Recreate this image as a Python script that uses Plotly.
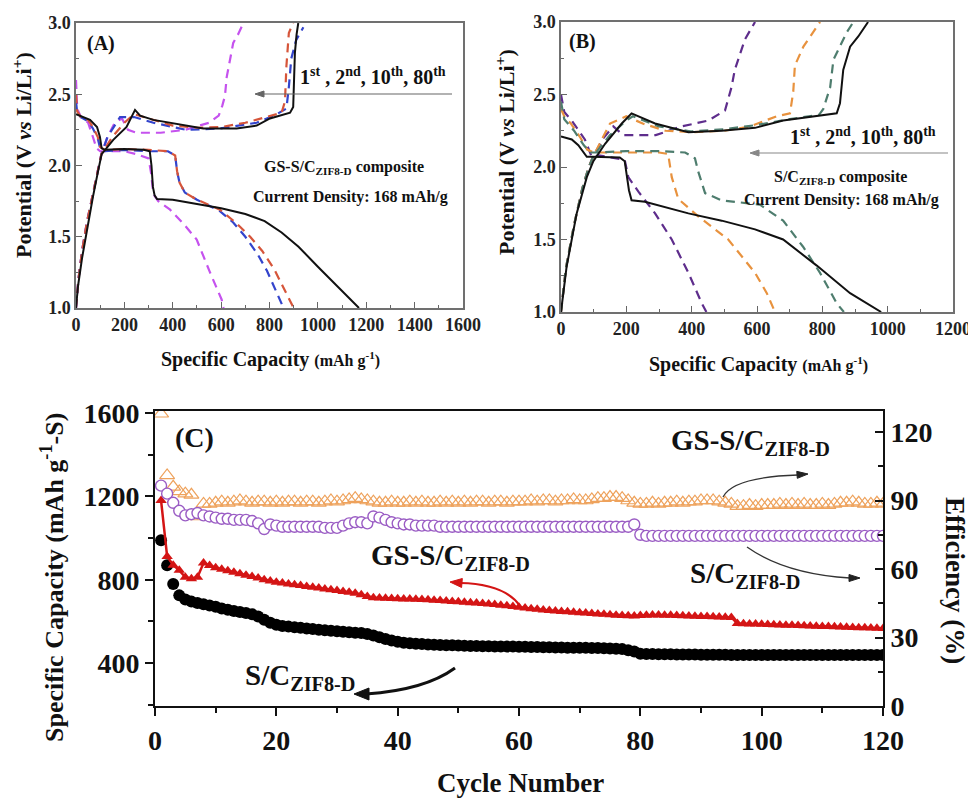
import math
import plotly.graph_objects as go

# The page places the figure 8px from the top-left corner; every position below is
# given in page pixels and converted to figure (paper) coordinates.
OFF = 8
W, H = 976 - OFF, 801 - OFF
def fx(p): return (p - OFF) / W
def fy(p): return 1 - (p - OFF) / H
SERIF = "Liberation Serif"

# ---------------- Panel A data (GS-S/C ZIF8-D) ----------------
A1_dis_q = [0, 30, 58, 87, 99, 106, 120, 200, 280, 305, 312, 318, 325, 335, 400, 500, 600, 700, 780, 850, 920, 1000, 1080, 1170]
A1_dis_v = [2.36, 2.34, 2.32, 2.27, 2.20, 2.12, 2.11, 2.115, 2.11, 2.10, 2.0, 1.85, 1.79, 1.765, 1.76, 1.73, 1.70, 1.66, 1.61, 1.53, 1.43, 1.29, 1.15, 1.0]
A1_ch_q = [0, 8, 25, 45, 70, 90, 106, 154, 209, 244, 265, 320, 389, 526, 664, 747, 802, 860, 885, 898, 905, 912, 919]
A1_ch_v = [1.0, 1.15, 1.35, 1.55, 1.78, 1.95, 2.08, 2.18, 2.27, 2.39, 2.35, 2.32, 2.30, 2.26, 2.26, 2.28, 2.33, 2.36, 2.37, 2.41, 2.79, 2.92, 3.0]

A2_dis_q = [0, 5, 20, 50, 70, 90, 100, 120, 200, 300, 380, 410, 418, 428, 450, 500, 595, 660, 720, 770, 820, 860, 900]
A2_dis_v = [2.5, 2.38, 2.34, 2.32, 2.27, 2.2, 2.13, 2.11, 2.115, 2.11, 2.1, 2.07, 1.96, 1.88, 1.81, 1.76, 1.69, 1.6, 1.5, 1.4, 1.27, 1.14, 1.0]
A2_ch_q = [0, 10, 25, 45, 70, 90, 105, 150, 200, 240, 300, 400, 500, 600, 700, 800, 850, 864, 870, 880, 898]
A2_ch_v = [1.0, 1.2, 1.4, 1.6, 1.8, 1.97, 2.08, 2.2, 2.3, 2.36, 2.33, 2.28, 2.265, 2.27, 2.3, 2.35, 2.37, 2.45, 2.7, 2.93, 3.0]

A10_dis_q = [0, 5, 20, 50, 70, 90, 100, 120, 200, 300, 380, 410, 418, 428, 450, 500, 595, 650, 700, 750, 790, 825, 858]
A10_dis_v = [2.45, 2.37, 2.34, 2.31, 2.26, 2.19, 2.12, 2.1, 2.11, 2.1, 2.1, 2.07, 1.96, 1.88, 1.81, 1.76, 1.68, 1.6, 1.5, 1.38, 1.26, 1.13, 1.0]
A10_ch_q = [0, 10, 25, 45, 70, 90, 105, 130, 182, 240, 320, 457, 595, 747, 830, 870, 880, 890, 910, 940]
A10_ch_v = [1.0, 1.2, 1.4, 1.6, 1.8, 1.97, 2.08, 2.2, 2.34, 2.34, 2.30, 2.25, 2.26, 2.30, 2.36, 2.4, 2.55, 2.75, 2.88, 2.97]

A80_dis_q = [0, 5, 20, 50, 70, 85, 100, 200, 250, 300, 310, 320, 340, 389, 450, 499, 554, 602, 610]
A80_dis_v = [2.6, 2.4, 2.34, 2.3, 2.2, 2.12, 2.1, 2.1, 2.08, 2.05, 1.95, 1.8, 1.75, 1.69, 1.58, 1.48, 1.25, 1.06, 1.0]
A80_ch_q = [0, 10, 25, 45, 70, 90, 105, 130, 160, 190, 215, 250, 350, 450, 550, 590, 605, 616, 623, 650, 670, 692]
A80_ch_v = [1.0, 1.2, 1.4, 1.6, 1.8, 1.97, 2.08, 2.2, 2.3, 2.33, 2.25, 2.23, 2.23, 2.25, 2.3, 2.35, 2.42, 2.49, 2.62, 2.86, 2.92, 3.0]

# ---------------- Panel B data (S/C ZIF8-D) ----------------
B1_dis_q = [0, 33, 53, 79, 94, 150, 180, 195, 201, 208, 216, 257, 390, 492, 594, 680, 783, 885, 980]
B1_dis_v = [2.21, 2.19, 2.15, 2.07, 2.07, 2.07, 2.065, 2.04, 1.93, 1.84, 1.77, 1.76, 1.68, 1.63, 1.57, 1.50, 1.32, 1.13, 1.0]
B1_ch_q = [0, 17, 48, 79, 99, 135, 186, 216, 288, 390, 492, 594, 680, 783, 844, 854, 864, 885, 910, 940]
B1_ch_v = [1.0, 1.31, 1.68, 1.93, 2.04, 2.16, 2.30, 2.37, 2.30, 2.24, 2.25, 2.27, 2.32, 2.35, 2.37, 2.44, 2.67, 2.83, 2.9, 3.0]

B2_dis_q = [0, 10, 40, 70, 90, 110, 200, 300, 380, 410, 420, 441, 492, 609, 680, 741, 793, 844, 866]
B2_dis_v = [2.45, 2.33, 2.25, 2.15, 2.1, 2.1, 2.11, 2.11, 2.1, 2.06, 1.97, 1.82, 1.77, 1.74, 1.63, 1.45, 1.27, 1.06, 1.0]
B2_ch_q = [0, 15, 40, 65, 85, 100, 150, 200, 220, 300, 400, 500, 600, 700, 790, 803, 824, 834, 875, 895]
B2_ch_v = [1.0, 1.3, 1.6, 1.85, 2.0, 2.08, 2.22, 2.32, 2.35, 2.28, 2.245, 2.26, 2.29, 2.33, 2.36, 2.4, 2.55, 2.74, 2.93, 3.0]

B10_dis_q = [0, 10, 30, 60, 80, 100, 200, 300, 328, 339, 359, 420, 512, 594, 630, 655]
B10_dis_v = [2.4, 2.35, 2.3, 2.2, 2.12, 2.1, 2.1, 2.1, 2.09, 1.93, 1.78, 1.66, 1.5, 1.27, 1.13, 1.0]
B10_ch_q = [0, 15, 40, 65, 85, 100, 150, 200, 250, 320, 400, 500, 579, 660, 701, 711, 716, 742, 793]
B10_ch_v = [1.0, 1.3, 1.6, 1.85, 2.0, 2.08, 2.3, 2.35, 2.3, 2.25, 2.24, 2.25, 2.28, 2.35, 2.37, 2.52, 2.7, 2.83, 3.0]

B80_dis_q = [0, 10, 33, 73, 94, 115, 195, 206, 237, 288, 339, 390, 431, 445]
B80_dis_v = [2.5, 2.38, 2.32, 2.19, 2.07, 2.08, 2.05, 1.93, 1.83, 1.68, 1.5, 1.27, 1.06, 1.0]
B80_ch_q = [0, 15, 40, 65, 85, 100, 130, 160, 190, 290, 369, 451, 502, 522, 532, 563, 594]
B80_ch_v = [1.0, 1.3, 1.6, 1.85, 2.0, 2.08, 2.2, 2.28, 2.22, 2.22, 2.28, 2.32, 2.39, 2.55, 2.67, 2.88, 3.0]

# ---------------- Panel C data ----------------
cycles = list(range(1, 121))
sc_capacity = [
    990, 870, 780, 725, 705, 695, 688, 682, 676, 670,
    662, 656, 650, 645, 640, 634, 624, 608, 594, 584,
    578, 575, 572, 569, 566, 563, 560, 557, 555, 553,
    550, 548, 546, 544, 540, 532, 524, 516, 508, 502,
    498, 495, 493, 491, 489, 488, 487, 486, 485, 484,
    483, 482, 482, 481, 481, 480, 480, 479, 479, 478,
    478, 477, 477, 476, 476, 475, 475, 474, 474, 473,
    473, 472, 472, 471, 470, 469, 467, 462, 456, 445,
    443, 443, 442, 442, 442, 441, 441, 441, 441, 440,
    440, 440, 440, 440, 439, 439, 439, 439, 439, 439,
    439, 439, 439, 439, 439, 439, 439, 439, 439, 439,
    439, 439, 439, 439, 439, 439, 439, 439, 439, 439]
gs_capacity = [
    1180, 912, 870, 845, 812, 805, 812, 880, 868, 858,
    850, 843, 836, 829, 822, 815, 808, 800, 794, 788,
    784, 780, 776, 772, 768, 764, 760, 756, 752, 748,
    744, 740, 735, 728, 720, 714, 712, 711, 710, 709,
    708, 707, 706, 705, 704, 702, 700, 698, 696, 694,
    692, 690, 688, 686, 684, 681, 678, 675, 672, 668,
    664, 661, 658, 655, 652, 650, 648, 646, 644, 642,
    640, 638, 636, 634, 632, 630, 628, 627, 626, 628,
    630, 631, 631, 630, 629, 628, 627, 626, 625, 624,
    623, 622, 621, 620, 619, 590, 589, 588, 587, 586,
    585, 584, 583, 582, 581, 580, 579, 578, 577, 576,
    575, 574, 573, 572, 571, 570, 569, 568, 567, 566]
gs_efficiency = [
    128, 101, 96, 94, 93, 92.5, 83, 88.5, 88.5, 89,
    89.5, 89, 89.5, 90, 89.5, 89, 89.5, 89.5, 89, 89.5,
    89, 89.5, 89.5, 89, 89.5, 89.5, 89, 89.5, 90, 89.5,
    90, 90.5, 91, 90.5, 90, 89.5, 89, 89, 89.5, 89,
    89, 89.5, 89, 89.5, 89, 89, 89.5, 89, 89.5, 89,
    89.5, 89, 89.5, 89.5, 89, 89.5, 89.5, 89, 89.5, 89.5,
    89.5, 90, 89.5, 90, 90, 89.5, 90, 90, 90.5, 90,
    90, 90.5, 91, 91, 91.5, 91.5, 91, 90, 89, 88.5,
    88.5, 89, 88.5, 89, 89, 89.5, 89, 89.5, 89.5, 90,
    90, 90, 89.5, 89, 88.5, 87.5, 87.5, 88, 87.5, 88,
    88, 88, 88.5, 88, 88.5, 88, 88.5, 88, 88, 88.5,
    88, 88.5, 89, 89, 89.5, 89, 88.5, 88.5, 89, 88.5]
sc_efficiency = [
    96.5, 93, 89, 85.5, 83.5, 84, 84.5, 83.5, 83, 82.5,
    82, 82, 81.5, 81.5, 81.5, 81, 80, 77.5, 79.5, 79,
    78.5, 78.5, 78.5, 78.5, 78.5, 78.5, 78.5, 78, 78, 78,
    79, 80, 80.5, 80.5, 80, 83, 82.5, 81.5, 80.5, 80,
    79.5, 79.5, 79, 79, 79, 79, 78.5, 78.5, 78.5, 78.5,
    78.5, 78.5, 78.5, 78.5, 78.5, 78.5, 78.5, 78.5, 78.5, 78.5,
    78.5, 78.5, 78.5, 78.5, 78.5, 78.5, 78.5, 78.5, 78.5, 78.5,
    78.5, 78.5, 78.5, 78.5, 78.5, 78.5, 78.5, 78.5, 79.5, 75,
    74.5, 74.5, 74.5, 74.5, 74.5, 74.5, 74.5, 74.5, 74.5, 74.5,
    74.5, 74.5, 74.5, 74.5, 74.5, 74.5, 74.5, 74.5, 74.5, 74.5,
    74.5, 74.5, 74.5, 74.5, 74.5, 74.5, 74.5, 74.5, 74.5, 74.5,
    74.5, 74.5, 74.5, 74.5, 74.5, 74.5, 74.5, 74.5, 74.5, 74.5]

A_xticks = [0, 200, 400, 600, 800, 1000, 1200, 1400, 1600]
B_xticks = [0, 200, 400, 600, 800, 1000, 1200]
V_ticks = [1.0, 1.5, 2.0, 2.5, 3.0]
C_xticks = [0, 20, 40, 60, 80, 100, 120]
C_lticks = [400, 800, 1200, 1600]
C_rticks = [0, 30, 60, 90, 120]

fig = go.Figure()

def curve(q, v, color, dash, xa, ya):
    fig.add_trace(go.Scatter(x=q, y=v, mode="lines", xaxis=xa, yaxis=ya,
                             line=dict(color=color, width=2 if dash == "solid" else 2.2, dash=dash),
                             showlegend=False, hoverinfo="skip"))

DASH = "9px,6px"
# Panel A
for q, v, c, d in [
    (A80_dis_q, A80_dis_v, "#c552ee", DASH), (A80_ch_q, A80_ch_v, "#c552ee", DASH),
    (A10_dis_q, A10_dis_v, "#3344cc", DASH), (A10_ch_q, A10_ch_v, "#3344cc", DASH),
    (A2_dis_q, A2_dis_v, "#d6553a", DASH), (A2_ch_q, A2_ch_v, "#d6553a", DASH),
    (A1_dis_q, A1_dis_v, "#111111", "solid"), (A1_ch_q, A1_ch_v, "#111111", "solid")]:
    curve(q, v, c, d, "x", "y")
# Panel B
for q, v, c, d in [
    (B80_dis_q, B80_dis_v, "#5e2d8c", DASH), (B80_ch_q, B80_ch_v, "#5e2d8c", DASH),
    (B10_dis_q, B10_dis_v, "#e8923e", DASH), (B10_ch_q, B10_ch_v, "#e8923e", DASH),
    (B2_dis_q, B2_dis_v, "#4e7d6e", DASH), (B2_ch_q, B2_ch_v, "#4e7d6e", DASH),
    (B1_dis_q, B1_dis_v, "#111111", "solid"), (B1_ch_q, B1_ch_v, "#111111", "solid")]:
    curve(q, v, c, d, "x2", "y2")

# Panel C
fig.add_trace(go.Scatter(x=cycles, y=gs_efficiency, mode="markers", xaxis="x3", yaxis="y4",
                         marker=dict(symbol="triangle-up-open", size=13, color="#eea25c",
                                     line=dict(width=1.2, color="#eea25c")),
                         showlegend=False, hoverinfo="skip"))
fig.add_trace(go.Scatter(x=cycles, y=sc_efficiency, mode="markers", xaxis="x3", yaxis="y4",
                         marker=dict(symbol="circle", size=11, color="white",
                                     line=dict(width=1.4, color="#9a5cc4")),
                         showlegend=False, hoverinfo="skip"))
fig.add_trace(go.Scatter(x=cycles, y=sc_capacity, mode="markers", xaxis="x3", yaxis="y3",
                         marker=dict(symbol="circle", size=12, color="#000000"),
                         showlegend=False, hoverinfo="skip"))
fig.add_trace(go.Scatter(x=cycles, y=gs_capacity, mode="lines+markers", xaxis="x3", yaxis="y3",
                         line=dict(color="#d41515", width=2.5),
                         marker=dict(symbol="triangle-up", size=10, color="#d41515"),
                         showlegend=False, hoverinfo="skip"))

tf_small = dict(family=SERIF, size=18, color="#222222", weight="bold")
tf_big = dict(family=SERIF, size=28, color="#111111", weight="bold")

def ab_axes(dom, rng, ticks, minor, fmt=None):
    d = dict(domain=dom, range=rng, tickvals=ticks, ticks="inside", ticklen=6, tickwidth=1.2,
             tickcolor="#666666", showline=True, mirror=True, linecolor="#707070", linewidth=1.5,
             showgrid=False, zeroline=False, tickfont=tf_small, automargin=False,
             minor=dict(dtick=minor, ticks="inside", ticklen=3, tickcolor="#666666", showgrid=False))
    if fmt:
        d["tickformat"] = fmt
    return d

fig.update_layout(
    template="none",
    width=W, height=H, autosize=False,
    margin=dict(l=0, r=0, t=0, b=0, pad=0),
    paper_bgcolor="white", plot_bgcolor="white",
    font=dict(family=SERIF),
    xaxis=dict(ab_axes([fx(76), fx(463)], [0, 1600], A_xticks, 100), anchor="y"),
    yaxis=dict(ab_axes([fy(308), fy(23)], [1, 3], V_ticks, 0.25, ".1f"), anchor="x"),
    xaxis2=dict(ab_axes([fx(561), fx(953)], [0, 1200], B_xticks, 100), anchor="y2"),
    yaxis2=dict(ab_axes([fy(312), fy(22)], [1, 3], V_ticks, 0.25, ".1f"), anchor="x2"),
    xaxis3=dict(domain=[fx(155), fx(883)], range=[0, 120], tickvals=C_xticks, anchor="y3",
                ticks="outside", ticklen=8, tickwidth=2, tickcolor="#111111",
                showline=True, mirror=True, linecolor="#111111", linewidth=2,
                showgrid=False, zeroline=False, tickfont=tf_big, automargin=False,
                minor=dict(dtick=10, ticks="outside", ticklen=5, tickwidth=2, tickcolor="#111111", showgrid=False)),
    yaxis3=dict(domain=[fy(706), fy(411)], range=[194, 1610], tickvals=C_lticks, anchor="x3",
                ticks="outside", ticklen=8, tickwidth=2, tickcolor="#111111",
                showline=True, linecolor="#111111", linewidth=2,
                showgrid=False, zeroline=False, tickfont=tf_big, automargin=False,
                minor=dict(tick0=200, dtick=200, ticks="outside", ticklen=5, tickwidth=2, tickcolor="#111111", showgrid=False)),
    yaxis4=dict(range=[0, 129.2], tickvals=C_rticks, anchor="x3", overlaying="y3", side="right",
                ticks="inside", ticklen=8, tickwidth=2, tickcolor="#111111",
                showline=True, linecolor="#111111", linewidth=2,
                showgrid=False, zeroline=False, tickfont=tf_big, automargin=False,
                minor=dict(tick0=15, dtick=30, ticks="inside", ticklen=5, tickwidth=2, tickcolor="#111111", showgrid=False)),
)

ann = []
def text(x, y, s, size, angle=0, color="#111111", xanchor="center"):
    ann.append(dict(x=fx(x), y=fy(y), xref="paper", yref="paper", text=s, showarrow=False,
                    textangle=angle, xanchor=xanchor, yanchor="middle",
                    font=dict(family=SERIF, size=size, color=color, weight="bold")))

# Panel A texts
text(101, 44, "(A)", 20)
text(373, 76, "1<sup>st</sup> , 2<sup>nd</sup>, 10<sup>th</sup>, 80<sup>th</sup>", 20)
text(344, 167, "GS-S/C<sub>ZIF8-D</sub> composite", 16)
text(350, 197, "Current Density: 168 mAh/g", 16)
text(22, 155, "Potential (V <i>vs</i> Li/Li<sup>+</sup>)", 22, angle=-90)
text(270, 359, "Specific Capacity <span style='font-size:16px'>(mAh g<sup>-1</sup>)</span>", 20)

# Panel B texts
text(582, 42, "(B)", 20)
text(863, 136, "1<sup>st</sup> , 2<sup>nd</sup>, 10<sup>th</sup>, 80<sup>th</sup>", 20)
text(840, 177, "S/C<sub>ZIF8-D</sub> composite", 16)
text(841, 200, "Current Density: 168 mAh/g", 16)
text(505, 152, "Potential (V <i>vs</i> Li/Li<sup>+</sup>)", 22, angle=-90)
text(758, 364, "Specific Capacity <span style='font-size:16px'>(mAh g<sup>-1</sup>)</span>", 20)

# Panel C texts
text(194, 437, "(C)", 28)
text(750, 442, "GS-S/C<sub>ZIF8-D</sub>", 29)
text(450, 557, "GS-S/C<sub>ZIF8-D</sub>", 29)
text(745, 575, "S/C<sub>ZIF8-D</sub>", 29)
text(300, 677, "S/C<sub>ZIF8-D</sub>", 29)
text(52, 578, "Specific Capacity (mAh g<sup>-1</sup>-S)", 26, angle=-90)
text(955, 580, "Efficiency (%)", 27, angle=90)
text(520, 783, "Cycle Number", 27)

shapes = []
def line_shape(p0, p1, color, width):
    shapes.append(dict(type="line", xref="paper", yref="paper",
                       x0=fx(p0[0]), y0=fy(p0[1]), x1=fx(p1[0]), y1=fy(p1[1]),
                       line=dict(color=color, width=width)))

def curve_shape(pts, color, width):
    (x0, y0), (cx, cy), (x1, y1) = pts
    shapes.append(dict(type="path", xref="paper", yref="paper",
                       path=f"M {fx(x0)},{fy(y0)} Q {fx(cx)},{fy(cy)} {fx(x1)},{fy(y1)}",
                       line=dict(color=color, width=width)))

def head(tip, frm, color, length, half):
    dx, dy = tip[0] - frm[0], tip[1] - frm[1]
    n = math.hypot(dx, dy)
    ux, uy = dx / n, dy / n
    bx, by = tip[0] - ux * length, tip[1] - uy * length
    p1 = (bx - uy * half, by + ux * half)
    p2 = (bx + uy * half, by - ux * half)
    shapes.append(dict(type="path", xref="paper", yref="paper",
                       path=f"M {fx(tip[0])},{fy(tip[1])} L {fx(p1[0])},{fy(p1[1])} L {fx(p2[0])},{fy(p2[1])} Z",
                       fillcolor=color, line=dict(color=color, width=1)))

# panel A / B straight arrows
line_shape((452, 94), (262, 94), "#666666", 1.2)
head((255, 94), (452, 94), "#666666", 9, 3)
line_shape((948, 153), (758, 153), "#888888", 1.2)
head((750, 153), (948, 153), "#888888", 9, 3)

# curved arrows in panel C
curve_shape([(723, 497), (733, 477), (798, 475)], "#333333", 1.3)
head((808, 474), (795, 475), "#222222", 11, 3.5)
curve_shape([(747, 547), (785, 574), (850, 578)], "#333333", 1.3)
head((860, 578), (848, 578), "#222222", 11, 3.5)
curve_shape([(520, 606), (505, 584), (460, 583)], "#d41515", 2.2)
head((450, 582), (462, 583), "#d41515", 12, 4.5)
curve_shape([(455, 668), (425, 690), (366, 694)], "#111111", 3)
head((354, 694), (368, 694), "#111111", 15, 6)

fig.update_layout(annotations=ann, shapes=shapes)
fig.write_html("out.html")
